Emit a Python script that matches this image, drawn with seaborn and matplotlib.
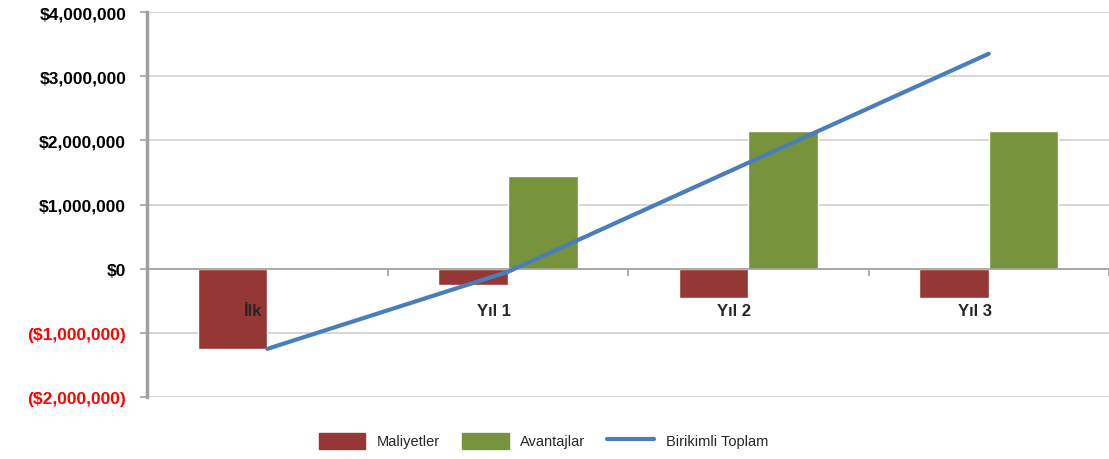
import matplotlib
matplotlib.use('Agg')
import matplotlib.pyplot as plt
import matplotlib.ticker as mticker
import numpy as np
import pandas as pd
import seaborn as sns

categories = ['İlk', 'Yıl 1', 'Yıl 2', 'Yıl 3']
maliyetler = [-1250000, -250000, -450000, -450000]
avantajlar = [0, 1450000, 2150000, 2150000]
birikimli = [-1250000, -50000, 1650000, 3350000]

RED = '#953735'
GREEN = '#77933C'
BLUE = '#4A7EBB'

sns.set_style('white')
plt.rcParams['font.family'] = ['Liberation Sans', 'DejaVu Sans']

bars = pd.DataFrame({
    'kategori': categories * 2,
    'deger': maliyetler + avantajlar,
    'seri': ['Maliyetler'] * 4 + ['Avantajlar'] * 4,
})

fig = plt.figure(figsize=(11.09, 4.60), dpi=100)
ax = fig.add_axes([0.1326, 0.1348, 0.8674, 0.8369])

sns.barplot(data=bars, x='kategori', y='deger', hue='seri',
            palette=[RED, GREEN], width=0.58, saturation=1,
            ax=ax, legend=False, zorder=2)
sns.lineplot(x=np.arange(len(categories)), y=birikimli, color=BLUE,
             linewidth=3, ax=ax, zorder=3)

ax.set_xlim(-0.5, len(categories) - 0.5)
ax.set_ylim(-2000000, 4000000)
ax.set_yticks(np.arange(-2000000, 4000001, 1000000))
ax.yaxis.grid(True, color='#d0d0d0', linewidth=1.2, zorder=0)
ax.set_axisbelow(True)


def money(v, pos=None):
    if v < 0:
        return f'(${-v:,.0f})'
    return f'${v:,.0f}'


ax.yaxis.set_major_formatter(mticker.FuncFormatter(money))
for lbl, v in zip(ax.get_yticklabels(), ax.get_yticks()):
    lbl.set_color('red' if v < 0 else 'black')
    lbl.set_fontweight('bold')
    lbl.set_fontsize(12.5)
ax.tick_params(axis='y', length=5, color='#a0a0a0', width=1.2, pad=10, left=True)

# category axis crosses at zero, like the spreadsheet chart
ax.spines['bottom'].set_position(('data', 0))
ax.spines['bottom'].set_color('#a0a0a0')
ax.spines['bottom'].set_linewidth(1.2)
ax.spines['left'].set_color('#a0a0a0')
ax.spines['left'].set_linewidth(2.5)
ax.spines['top'].set_visible(False)
ax.spines['right'].set_visible(False)
ax.set_xticks(np.arange(len(categories)))
ax.set_xticklabels([])
ax.set_xticks(np.arange(len(categories) + 1) - 0.5, minor=True)
ax.tick_params(axis='x', which='major', length=0)
ax.tick_params(axis='x', which='minor', length=5, color='#a0a0a0', width=1.2, bottom=True)
ax.set_xlabel('')
ax.set_ylabel('')

# category labels drawn on top of the bars
for i, name in enumerate(categories):
    ax.annotate(name, xy=(i, 0), xytext=(-10, -30), textcoords='offset points',
                ha='center', va='center', fontsize=12, fontweight='bold',
                zorder=5)

handles = [
    plt.Rectangle((0, 0), 1, 1, color=RED),
    plt.Rectangle((0, 0), 1, 1, color=GREEN),
    plt.Line2D([0], [0], color=BLUE, linewidth=3),
]
fig.legend(handles, ['Maliyetler', 'Avantajlar', 'Birikimli Toplam'],
           loc='center', bbox_to_anchor=(0.49, 0.04), ncol=3, frameon=False,
           fontsize=10.5, handlelength=3.2, handleheight=1.3, columnspacing=1.5)

fig.savefig('out.png', dpi=100)
